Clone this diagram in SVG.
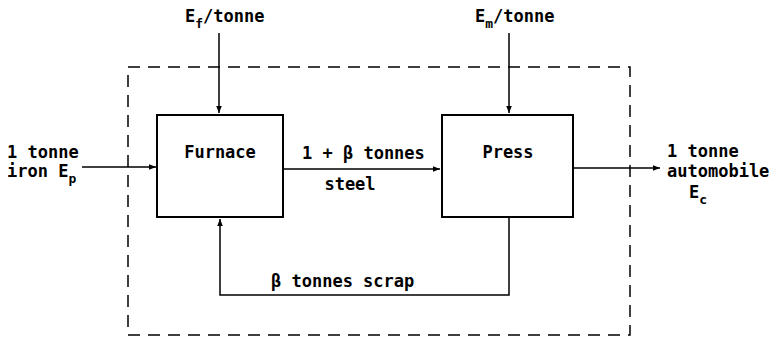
<svg xmlns="http://www.w3.org/2000/svg" width="776" height="338" viewBox="0 0 776 338">
<defs>
<marker id="ah" viewBox="0 0 10 10" refX="10" refY="5" markerWidth="10" markerHeight="7" markerUnits="userSpaceOnUse" orient="auto">
<path d="M0,1 L10,5 L0,9 z" fill="#000"/>
</marker>
<style>
text{font-family:"DejaVu Sans Mono","Liberation Mono",monospace;font-size:17px;fill:#000;font-weight:bold}
.sub{font-size:13px}
.box{fill:#fff;stroke:#000;stroke-width:2}
.ln{fill:none;stroke:#000;stroke-width:1.5}
.dash{fill:none;stroke:#000;stroke-width:1.5;stroke-dasharray:12 8}
</style>
</defs>
<rect width="776" height="338" fill="#fff"/>
<g id="boundary">
<rect class="dash" x="128" y="67" width="502" height="268"/>
</g>
<g id="connectors">
<line class="ln" x1="219" y1="33" x2="219" y2="113" marker-end="url(#ah)"/>
<line class="ln" x1="509" y1="33" x2="509" y2="113" marker-end="url(#ah)"/>
<line class="ln" x1="82" y1="167" x2="156" y2="167" marker-end="url(#ah)"/>
<line class="ln" x1="284" y1="169" x2="440" y2="169" marker-end="url(#ah)"/>
<line class="ln" x1="574" y1="168" x2="660" y2="168" marker-end="url(#ah)"/>
<polyline class="ln" points="509,218 509,295 220,295 220,219" marker-end="url(#ah)"/>
</g>
<g id="furnace">
<rect class="box" x="157" y="115" width="126" height="102"/>
<text x="220" y="158" text-anchor="middle">Furnace</text>
</g>
<g id="press">
<rect class="box" x="442" y="115" width="131" height="102"/>
<text x="508" y="158" text-anchor="middle">Press</text>
</g>
<g id="labels">
<text x="185" y="22">E<tspan class="sub" dy="6">f</tspan><tspan dy="-6">/tonne</tspan></text>
<text x="475" y="22">E<tspan class="sub" dy="6">m</tspan><tspan dy="-6">/tonne</tspan></text>
<text x="7" y="158">1 tonne</text>
<text x="7" y="177">iron E<tspan class="sub" dy="6">p</tspan></text>
<text x="302" y="159">1 + β tonnes</text>
<text x="350" y="190" text-anchor="middle">steel</text>
<text x="271" y="287">β tonnes scrap</text>
<text x="667" y="157">1 tonne</text>
<text x="667" y="177">automobile</text>
<text x="689" y="198">E<tspan class="sub" dy="6">c</tspan></text>
</g>
</svg>
